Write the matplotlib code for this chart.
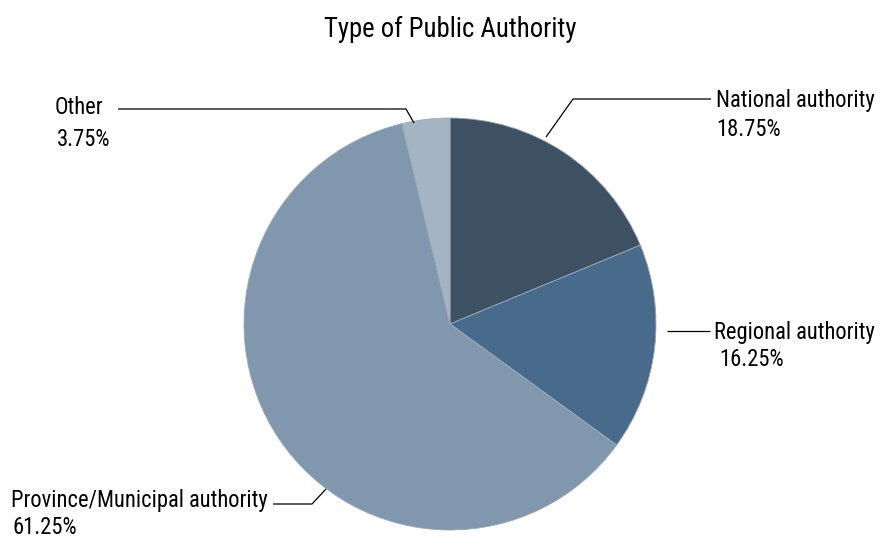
import matplotlib
matplotlib.use("Agg")
import matplotlib.pyplot as plt

categories = ["National authority", "Regional authority", "Province/Municipal authority", "Other"]
values = [18.75, 16.25, 61.25, 3.75]
pct_labels = ["18.75%", "16.25%", "61.25%", "3.75%"]
colors = ["#3e5162", "#486b8b", "#8097ad", "#a4b4c3"]
title = "Type of Public Authority"

plt.rcParams["font.family"] = ["Roboto Condensed", "DejaVu Sans"]

W, H = 885, 541
fig = plt.figure(figsize=(W / 100, H / 100), dpi=100)
cx, cy, R = 450, 324, 206
ax = fig.add_axes([(cx - R) / W, (H - cy - R) / H, 2 * R / W, 2 * R / H])
ax.pie(values, colors=colors, startangle=90, counterclock=False, radius=1,
       wedgeprops=dict(linewidth=0.6, edgecolor="#9aaabb"))
ax.set_xlim(-1, 1)
ax.set_ylim(-1, 1)
ax.set_aspect("equal")
ax.axis("off")

renderer = fig.canvas.get_renderer()

def fit_size(s, target_px, base=14):
    t = fig.text(0, 0, s, fontsize=base)
    w = t.get_window_extent(renderer).width
    t.remove()
    return base * target_px / w

fs = min(fit_size(categories[0], 164), fit_size(categories[2], 257))
fs_title = fit_size(title, 253)

def d(px, py):
    return ((px - cx) / R, (cy - py) / R)

def leader(points):
    xs, ys = zip(*[d(*p) for p in points])
    ax.plot(xs, ys, color="black", lw=0.9, clip_on=False, solid_capstyle="butt")

def label(px, py, s, ha="left"):
    x, y = d(px, py)
    ax.text(x, y, s, ha=ha, va="center", fontsize=fs, clip_on=False)

# National
leader([(546, 137), (573, 99), (711, 99)])
label(716, 101, categories[0]); label(716, 130, pct_labels[0])
# Regional
leader([(667, 331), (710, 331)])
label(714, 332, categories[1]); label(719, 359, pct_labels[1])
# Province
leader([(326, 489), (312, 504), (273, 504)])
label(11, 501, categories[2]); label(13, 528, pct_labels[2])
# Other
leader([(414, 123), (406, 109), (118, 109)])
label(55, 108, categories[3]); label(57, 139, pct_labels[3])

fig.text(450 / W, 1 - 29 / H, title, ha="center", va="center", fontsize=fs_title)

fig.savefig("out.png", dpi=100)
